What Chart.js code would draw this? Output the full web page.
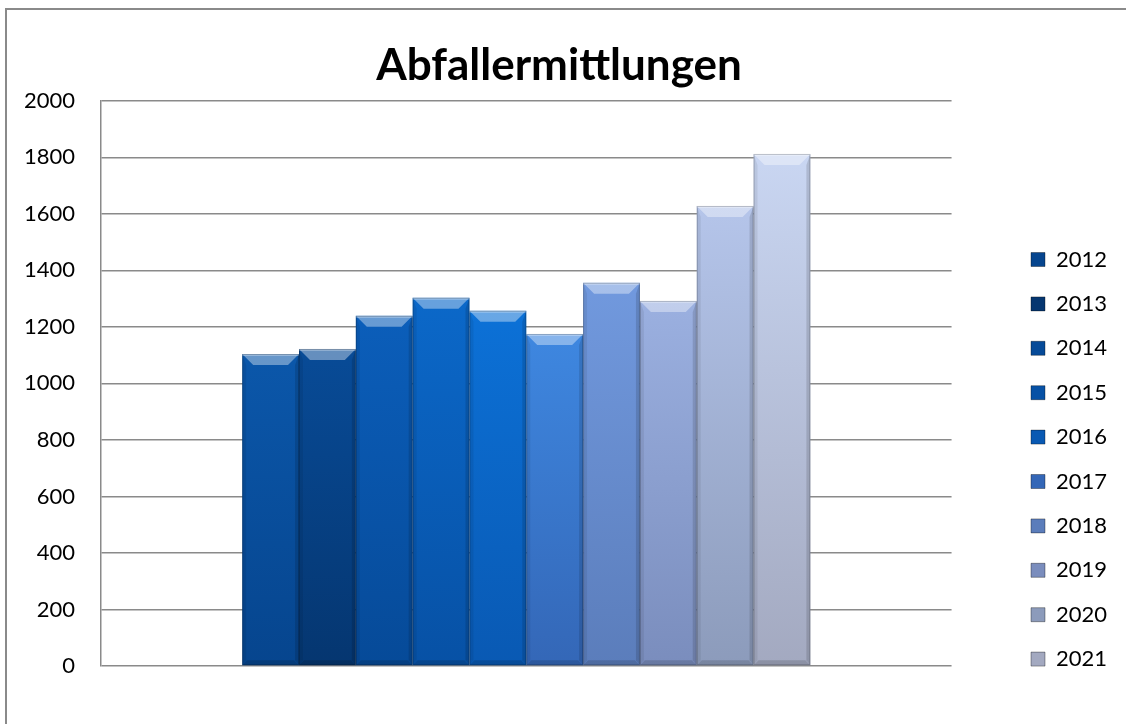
<!DOCTYPE html>
<html>
<head>
<meta charset="utf-8">
<script src="https://cdn.jsdelivr.net/npm/chart.js@4"></script>
<style>
  html, body { margin: 0; padding: 0; background: #fff; }
  #frame {
    position: absolute; left: 5px; top: 8px; width: 1130px; height: 730px;
    border-left: 2px solid #8a8a8a; border-top: 2px solid #8a8a8a;
  }
  #wrap { position: absolute; left: 0; top: 0; width: 1126px; height: 724px; }
</style>
</head>
<body>
<div id="frame"></div>
<div id="wrap"><canvas id="chart" width="1126" height="724"></canvas></div>
<script>
// data
const categories = [''];
const years = ['2012', '2013', '2014', '2015', '2016', '2017', '2018', '2019', '2020', '2021'];
const values = [1104, 1122, 1239, 1303, 1257, 1175, 1356, 1292, 1628, 1812];
const yTicks = [0, 200, 400, 600, 800, 1000, 1200, 1400, 1600, 1800, 2000];

// bar shading, light at the top, darker at the foot
const topColors = ['#0b57aa', '#084b97', '#0b5eba', '#0b68c9', '#0c71d7', '#3e87e0', '#7199de', '#9bb0e0', '#b5c5ea', '#c9d6f2'];
const footColors = ['#06458e', '#053670', '#064a98', '#0751a5', '#0959b3', '#3467b7', '#5b7dbb', '#7a8dbd', '#8c9bbb', '#a3a9c0'];

const FONT = 'Lato, "Open Sans", sans-serif';

function barFill(i) {
  return function (ctx) {
    if (ctx.type !== 'data') return footColors[i];
    const chart = ctx.chart;
    const y = chart.scales.y;
    if (!y || !chart.chartArea) return footColors[i];
    const top = y.getPixelForValue(ctx.raw);
    const base = y.getPixelForValue(0);
    const g = chart.ctx.createLinearGradient(0, top, 0, base);
    g.addColorStop(0, topColors[i]);
    g.addColorStop(1, footColors[i]);
    return g;
  };
}

// bevelled look of the Excel bars
const bevel = {
  id: 'bevel',
  afterDatasetsDraw(chart) {
    const c = chart.ctx;
    chart.data.datasets.forEach((ds, i) => {
      chart.getDatasetMeta(i).data.forEach(bar => {
        const L = bar.x - bar.width / 2, R = bar.x + bar.width / 2;
        const T = bar.y, B = bar.base;
        const b = 11, s = 5;
        c.save();
        // top face
        c.fillStyle = 'rgba(255,255,255,0.38)';
        c.beginPath();
        c.moveTo(L, T); c.lineTo(R, T); c.lineTo(R - b, T + b); c.lineTo(L + b, T + b); c.closePath();
        c.fill();
        c.fillStyle = 'rgba(255,255,255,0.3)';
        c.fillRect(L, T, R - L, 2);
        // sides
        c.fillStyle = 'rgba(0,0,0,0.07)';
        c.beginPath();
        c.moveTo(L, T); c.lineTo(L + 4, T + b); c.lineTo(L + 4, B - s); c.lineTo(L, B); c.closePath();
        c.fill();
        c.fillStyle = 'rgba(0,0,0,0.13)';
        c.beginPath();
        c.moveTo(R, T); c.lineTo(R - 4, T + b); c.lineTo(R - 4, B - s); c.lineTo(R, B); c.closePath();
        c.fill();
        // foot
        c.fillStyle = 'rgba(0,0,0,0.14)';
        c.beginPath();
        c.moveTo(L, B); c.lineTo(R, B); c.lineTo(R - s, B - s); c.lineTo(L + s, B - s); c.closePath();
        c.fill();
        c.strokeStyle = 'rgba(0,0,0,0.2)';
        c.lineWidth = 1;
        c.strokeRect(L + 0.5, T + 0.5, R - L - 1, B - T - 1);
        c.restore();
      });
    });
  }
};

// place legend and title where the reference has them
const placeBoxes = {
  id: 'placeBoxes',
  afterLayout(chart) {
    const lg = chart.legend;
    const pad = lg.options.labels.padding;
    const dx = 1031 - (lg.left + pad);
    const dy = 248.5 - (lg.top + pad);
    lg.left += dx; lg.right += dx; lg.top += dy; lg.bottom += dy;
    const t = chart.titleBlock;
    const tx = 559 - (t.left + t.right) / 2;
    t.left += tx; t.right += tx;
  }
};

const datasets = years.map((yr, i) => ({
  label: yr,
  data: [values[i]],
  backgroundColor: barFill(i),
  borderWidth: 0
}));

new Chart(document.getElementById('chart'), {
  type: 'bar',
  data: { labels: categories, datasets: datasets },
  options: {
    responsive: false,
    animation: false,
    layout: { padding: { left: 0, right: 66, top: 0, bottom: 58 } },
    datasets: { bar: { categoryPercentage: 0.668, barPercentage: 1 } },
    plugins: {
      title: {
        display: true,
        text: 'Abfallermittlungen',
        color: '#000',
        font: { family: FONT, size: 44, weight: 'bold' },
        padding: { top: 39, bottom: 9 }
      },
      legend: {
        display: true,
        position: 'right',
        align: 'start',
        fullSize: false,
        labels: {
          color: '#000',
          font: { family: FONT, size: 22 },
          boxWidth: 14,
          boxHeight: 14,
          padding: 22.4,
          generateLabels(chart) {
            return chart.data.datasets.map((ds, i) => ({
              text: ds.label,
              fillStyle: footColors[i],
              strokeStyle: 'rgba(0,0,0,0.35)',
              lineWidth: 1,
              hidden: false,
              datasetIndex: i
            }));
          }
        }
      },
      tooltip: { enabled: false }
    },
    scales: {
      x: { display: false },
      y: {
        min: 0,
        max: 2000,
        afterBuildTicks(scale) { scale.ticks = yTicks.map(v => ({ value: v })); },
        afterFit(scale) { scale.width = 101; },
        border: { display: true, color: '#8a8a8a', width: 1.5 },
        grid: { color: '#8a8a8a', lineWidth: 1.5, drawTicks: false },
        ticks: {
          color: '#000',
          padding: 26,
          font: { family: FONT, size: 22 },
          callback: v => String(v)
        }
      }
    }
  },
  plugins: [bevel, placeBoxes]
});
</script>
</body>
</html>
